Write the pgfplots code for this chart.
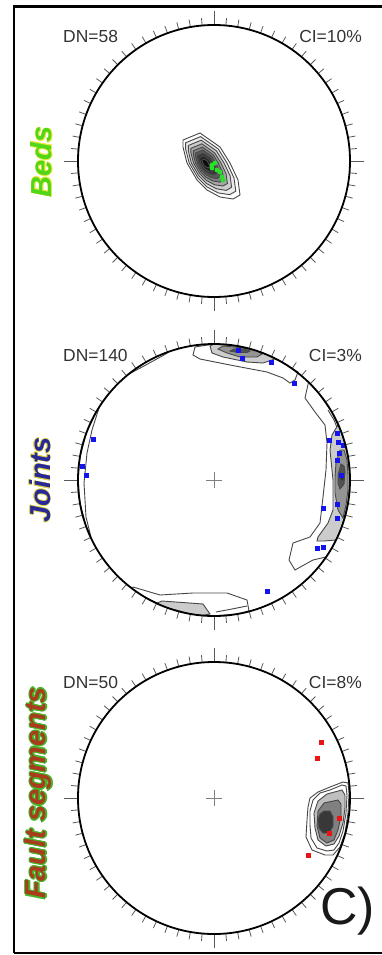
\documentclass[border=0pt]{standalone}
\usepackage{pgfplots}
\pgfplotsset{compat=1.18}
\usepackage{fontspec}
\setmainfont{Liberation Sans}
\definecolor{bedsg}{RGB}{80,215,25}
\definecolor{bedsh}{RGB}{235,230,60}
\definecolor{jointb}{RGB}{40,40,150}
\definecolor{jointh}{RGB}{225,215,70}
\definecolor{faultr}{RGB}{170,60,30}
\definecolor{faulth}{RGB}{70,180,40}
\definecolor{ptblue}{RGB}{20,20,240}
\definecolor{ptgreen}{RGB}{40,225,40}
\definecolor{ptred}{RGB}{235,20,20}
\newcommand\lblfont{\fontsize{29}{31}\selectfont\bfseries\itshape}
\newcommand\halolabel[6]{%
  \foreach \hx/\hy in {1/0,-1/0,0/1,0/-1,0.71/0.71,-0.71/0.71,0.71/-0.71,-0.71/-0.71}{%
    \node[rotate=90,inner sep=0pt,text=#3,font=\lblfont] at ([xshift=\hx*#5, yshift=\hy*#5]#1,#2) {#6};}%
  \node[rotate=90,inner sep=0pt,text=#4,font=\lblfont] at (#1,#2) {#6};}
\newcommand\net[2]{%
  \begin{scope}[shift={(214bp,#1)}]
    \foreach \a in {0,5,...,355}{\draw[black!65,line width=0.8bp] (\a:136bp) -- (\a:143.5bp);}
    \foreach \a in {0,90,180,270}{\draw[black!65,line width=0.8bp] (\a:136bp) -- (\a:150bp);}
    \ifx#2y\draw[black!50,line width=0.7bp] (-8bp,0) -- (8bp,0) (0,-8bp) -- (0,8bp);\fi
    \draw[black, line width=1.8bp] (0,0) circle[radius=136bp];
  \end{scope}}
\pgfplotsset{stereo/.style={anchor=center, x=1bp, y=1bp, xmin=-150, xmax=150, ymin=-150, ymax=150, hide axis, clip=false},
  cont/.style={draw=black!72, line width=0.9bp}}
\begin{document}
\begin{tikzpicture}
\useasboundingbox (0,0) rectangle (382bp,-955bp);
\draw[black, line width=2.5bp] (13.8bp,-953bp) -- (13.8bp,-6.5bp) -- (420bp,-6.5bp);
\draw[black, line width=2.5bp] (13.8bp,-953bp) -- (420bp,-953bp);

% ---------- Beds ----------
\begin{axis}[stereo, at={(214bp,-161bp)}]
\addplot[cont, fill=white] coordinates {(-31,21)(-14,28)(6,14)(16,-2)(24,-19)(26,-34)(19,-38)(6,-36)(-7,-29)(-17,-19)(-27,-2)(-31,14)} -- cycle;
\addplot[cont, fill=black!8] coordinates {(-28.4,18.2)(-13.4,24.4)(4.2,12.1)(13,-2)(20,-17)(21.8,-30.2)(15.6,-33.7)(4.2,-31.9)(-7.2,-25.8)(-16,-17)(-24.8,-2)(-28.4,12.1)} -- cycle;
\addplot[cont, fill=black!20] coordinates {(-25.7,15.5)(-12.8,20.8)(2.4,10.2)(10,-2)(16.1,-14.9)(17.6,-26.3)(12.3,-29.4)(2.4,-27.8)(-7.5,-22.5)(-15.1,-14.9)(-22.7,-2)(-25.7,10.2)} -- cycle;
\addplot[cont, fill=black!35] coordinates {(-23.1,12.7)(-12.2,17.2)(0.6,8.2)(7,-2)(12.1,-12.9)(13.4,-22.5)(8.9,-25)(0.6,-23.8)(-7.7,-19.3)(-14.1,-12.9)(-20.5,-2)(-23.1,8.2)} -- cycle;
\addplot[cont, fill=black!50] coordinates {(-20.7,10.2)(-11.7,13.9)(-1,6.5)(4.3,-2)(8.5,-11)(9.6,-19)(5.8,-21.1)(-1,-20)(-7.9,-16.3)(-13.2,-11)(-18.5,-2)(-20.7,6.5)} -- cycle;
\addplot[cont, fill=black!65] coordinates {(-18.5,7.9)(-11.2,10.9)(-2.5,4.9)(1.8,-2)(5.2,-9.3)(6.1,-15.8)(3,-17.5)(-2.5,-16.6)(-8.1,-13.6)(-12.4,-9.3)(-16.7,-2)(-18.5,4.9)} -- cycle;
\addplot[cont, fill=black!78] coordinates {(-16.3,5.6)(-10.7,7.9)(-4,3.3)(-0.7,-2)(1.9,-7.6)(2.6,-12.6)(0.2,-13.9)(-4,-13.2)(-8.3,-10.9)(-11.6,-7.6)(-14.9,-2)(-16.3,3.3)} -- cycle;
\addplot[cont, fill=black!88] coordinates {(-14.1,3.3)(-10.2,4.9)(-5.5,1.7)(-3.2,-2)(-1.4,-5.9)(-0.9,-9.4)(-2.6,-10.3)(-5.5,-9.8)(-8.5,-8.2)(-10.8,-5.9)(-13.1,-2)(-14.1,1.7)} -- cycle;
\addplot[cont, fill=black!95] coordinates {(-11.9,1)(-9.7,1.9)(-7,0.1)(-5.7,-2)(-4.7,-4.2)(-4.4,-6.2)(-5.4,-6.7)(-7,-6.4)(-8.7,-5.5)(-10,-4.2)(-11.3,-2)(-11.9,0.1)} -- cycle;
\addplot[only marks, mark=*, mark size=2.2, color=ptgreen] coordinates {(-2,-4)(1,-2)(-2,-7)(3,-9)(6,-11)(8,-16)(9,-19)};
\end{axis}

% ---------- Joints ----------
\begin{axis}[stereo, at={(214bp,-480bp)}]
% top cluster
\addplot[cont, fill=white] coordinates {(-19,133)(-21,125)(-14,121)(16,115)(53,108)(69,102)(76,97)(81,100)(84,108)(68,117.8)(46.5,127.8)(23.6,133.9)(0,136)} -- cycle;
\addplot[cont, fill=black!20] coordinates {(-4,134)(-2,127)(9,123)(33,118)(49,117)(58,120)(61,121.5)(46.5,127.8)(23.6,133.9)(0,136)} -- cycle;
\addplot[cont, fill=black!42] coordinates {(4,131)(13,127)(26,123)(43,123)(48,126)(43,129.5)(26,132.5)(9,134)} -- cycle;
\addplot[cont, fill=black!68] coordinates {(16,129)(24,127.5)(33,127.5)(36,129)(30,131)(20,131)} -- cycle;
% right cluster
\addplot[cont, fill=white] coordinates {(94.5,97.8)(91,82)(101,68)(111,55)(113,37)(112,10)(109,-17)(106,-43)(96,-57)(79,-63)(75,-80)(81,-90)(99,-80)(112,-77)(117.8,-68)(127.8,-46.5)(133.9,-23.6)(136,0)(133.9,23.6)(127.8,46.5)(117.8,68)(104.2,87.4)} -- cycle;
\addplot[cont] coordinates {(114,70)(120,60)(124,50)};
\addplot[cont, fill=black!20] coordinates {(124,55)(118,45)(116,30)(119,0)(119,-30)(114,-43)(104,-57)(103,-61)(110,-61)(122,-60)(127.8,-46.5)(133.9,-23.6)(136,0)(133.9,23.6)(127.8,46.5)} -- cycle;
\addplot[cont, fill=black!42] coordinates {(126,30)(122,17)(121,3)(121,-13)(124,-30)(129,-38)(132,-25)(134,-10)(134,5)(133,20)(130,30)} -- cycle;
\addplot[cont, fill=black!68] coordinates {(127,16)(124,5)(124,-3)(126,-9)(130,-4)(131,8)(130,14)} -- cycle;
\addplot[cont, fill=black!85] coordinates {(126,5)(127,0)(129,0)(130,4)(128,7)} -- cycle;
% left
\addplot[cont, fill=white] coordinates {(-115,72)(-122,50)(-127,27)(-130,-3)(-128,-37)(-123,-57)(-127.8,-46.5)(-133.9,-23.6)(-136,0)(-133.9,23.6)(-127.8,46.5)(-117.8,68)} -- cycle;
\addplot[cont] coordinates {(-85,106)(-70,114)(-50,125)(-46,127.5)};
% bottom
\addplot[cont, fill=white] coordinates {(-81,-107)(-54,-115)(-21,-113)(13,-113)(33,-120)(35,-131)(23.6,-133.9)(0,-136)(-23.6,-133.9)(-46.5,-127.8)(-68,-117.8)(-81.8,-108.6)} -- cycle;
\addplot[cont, fill=black!20] coordinates {(-57,-123)(-52,-121)(-11,-124)(-4,-134)(-11.9,-135.5)(-23.6,-133.9)(-46.5,-127.8)(-55.3,-124.2)} -- cycle;
\addplot[cont] coordinates {(2,-132)(18,-129)(33,-126)};
\addplot[only marks, mark=square*, mark size=1.8, color=ptblue] coordinates {(24,130)(28,122)(57,118)(80,97)(123,47)(115,40)(124,38)(129,35)(125,27)(123,20)(127,5)(109,-28)(123,-24)(123,-38)(103,-68)(109,-67)(53,-111)(-121,41)(-132,14)(-128,5)};
\end{axis}

% ---------- Fault segments ----------
\begin{axis}[stereo, at={(214bp,-798bp)}]
\addplot[cont, fill=white] coordinates {(129,16)(116,11)(104,6)(96,0)(94,-9)(93,-22)(92,-39)(98,-52)(111,-57)(119,-57)(126,-49)(131,-35)(134,-15)(135,5)(134,15)} -- cycle;
\addplot[cont, fill=white] coordinates {(128,13)(116,8)(106,5)(99,-2)(96,-13)(96,-27)(97,-40)(103,-50)(113,-53)(120,-52)(125,-45)(129,-33)(132,-15)(133,3)(132,12)} -- cycle;
\addplot[cont, fill=black!25] coordinates {(128,8)(113,4)(104,-3)(100,-15)(101,-30)(104,-42)(112,-48)(120,-46)(125,-38)(129,-25)(131,-10)(131,3)} -- cycle;
\addplot[cont, fill=black!50] coordinates {(124,-2)(110,-5)(104,-13)(103,-28)(106,-40)(113,-45)(120,-42)(124,-32)(127,-18)(127,-6)} -- cycle;
\addplot[cont, fill=black!78] coordinates {(110,-13)(116,-13)(119,-19)(119,-28)(115,-35)(109,-35)(105,-30)(104,-22)(106,-16)} -- cycle;
\addplot[only marks, mark=square*, mark size=1.8, color=ptred] coordinates {(107,56)(103,40)(125,-20)(115,-35)(94,-57)};
\end{axis}

\net{-161bp}{n}
\net{-480bp}{y}
\net{-798bp}{y}

\begin{scope}[font=\fontsize{17.5}{20}\selectfont, text=black!80]
\node[anchor=base west, inner sep=0pt] at (63bp,-42bp) {DN=58};
\node[anchor=base east, inner sep=0pt] at (362bp,-42bp) {CI=10\%};
\node[anchor=base west, inner sep=0pt] at (63bp,-361bp) {DN=140};
\node[anchor=base east, inner sep=0pt] at (362bp,-361bp) {CI=3\%};
\node[anchor=base west, inner sep=0pt] at (63bp,-688bp) {DN=50};
\node[anchor=base east, inner sep=0pt] at (362bp,-688bp) {CI=8\%};
\end{scope}

\halolabel{41.5bp}{-162bp}{bedsh}{bedsg}{0.6bp}{Beds}
\halolabel{40bp}{-480bp}{jointh}{jointb}{0.6bp}{Joints}
\halolabel{38.5bp}{-793bp}{faulth}{faultr}{1.2bp}{Fault segments}

\node[anchor=base west, inner sep=0pt, font=\fontsize{52}{56}\selectfont, text=black!90] at (320bp,-924bp) {C)};
\end{tikzpicture}
\end{document}
